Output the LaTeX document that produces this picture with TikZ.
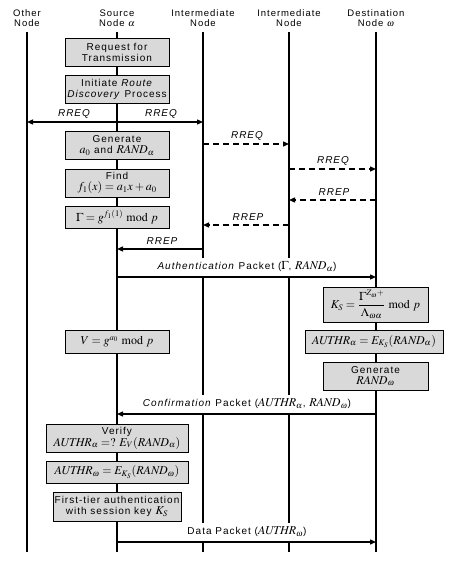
\documentclass[tikz,border=0pt]{standalone}
\usepackage{mathptmx}
\usepackage{fontspec}
\setmainfont{Liberation Sans}[LetterSpace=10]
\DeclareMathSizes{10}{12}{8.5}{7}
\definecolor{boxgray}{RGB}{217,217,217}
\usetikzlibrary{arrows.meta, positioning}

\begin{document}
\begin{tikzpicture}[x=1pt, y=-1pt,
  box/.style={draw=black, fill=boxgray, minimum width=104pt, minimum height=28pt, align=center, inner sep=1pt, font=\fontsize{10}{11}\selectfont},
  head/.style={align=center, font=\fontsize{9.5}{10}\selectfont},
  life/.style={line width=1.6pt},
  msg/.style={line width=1.3pt, -{Triangle[length=6pt, width=5pt]}},
  dmsg/.style={msg, dash pattern=on 6pt off 4pt},
  lbl/.style={font=\fontsize{10}{11}\selectfont\itshape, inner sep=1pt},
  pkt/.style={font=\fontsize{10}{11}\selectfont, fill=white, inner sep=2pt, minimum height=19pt}]
  \useasboundingbox (0,0) rectangle (453,563);

  % Node headers
  \node[head] (hO) at (27,18) {Other\\Node};
  \node[head] (hS) at (117,18) {Source\\Node $\alpha$};
  \node[head] (hI) at (203,18) {Intermediate\\Node};
  \node[head] (hJ) at (289,18) {Intermediate\\Node};
  \node[head] (hD) at (376,18) {Destination\\Node $\omega$};

  % Lifelines
  \coordinate (top) at (0,32);
  \coordinate (bot) at (0,552);
  \foreach \n in {hO,hS,hI,hJ,hD}
    \draw[life] (\n |- top) -- (\n |- bot);

  % Message levels
  \coordinate (m1) at (0,122);
  \coordinate (m2) at (0,144);
  \coordinate (m3) at (0,169);
  \coordinate (m4) at (0,200);
  \coordinate (m5) at (0,225);
  \coordinate (m6) at (0,249);
  \coordinate (m7) at (0,277);
  \coordinate (m8) at (0,414);
  \coordinate (m9) at (0,542);

  % Source side steps
  \node[box] (req) at (117,52) {Request for\\Transmission};
  \node[box] (init) at (117,89) {Initiate \textit{Route}\\\textit{Discovery} Process};
  \node[box] (gen) at (117,145.5) {Generate\\$a_0$ and $\mathit{RAND}_\alpha$};
  \node[box] (find) at (117,183) {Find\\$f_1(x) = a_1x + a_0$};
  \node[box, minimum height=22pt] (gam) at (117,217) {$\Gamma = g^{f_1(1)} \bmod p$};
  \node[box, minimum height=23pt] (vv) at (117,341.5) {$V = g^{a_0} \bmod p$};
  \node[box, minimum width=142pt] (ver) at (117,438) {Verify\\$\mathit{AUTHR}_\alpha =?\ E_V(\mathit{RAND}_\alpha)$};
  \node[box, minimum width=142pt, minimum height=22pt] (auo) at (117,472) {$\mathit{AUTHR}_\omega = E_{K_S}(\mathit{RAND}_\omega)$};
  \node[box, minimum width=128pt, minimum height=29pt] (tier) at (117,506.5) {First-tier authentication\\with session key $K_S$};

  % Destination side steps
  \node[box, minimum width=105pt, minimum height=35pt] (ks) at (375.5,304.5) {$K_S = \displaystyle\frac{\Gamma^{Z_\omega+}}{\Lambda_{\omega\alpha}} \bmod p$};
  \node[box, minimum width=138pt, minimum height=23pt] (aua) at (374,341.5) {$\mathit{AUTHR}_\alpha = E_{K_S}(\mathit{RAND}_\alpha)$};
  \node[box, minimum width=105pt] (gro) at (375.5,376) {Generate\\$\mathit{RAND}_\omega$};

  % Route discovery
  \draw[msg] (hS |- m1) -- (hO |- m1);
  \draw[msg] (hS |- m1) -- (hI |- m1);
  \node[lbl] (rq1) at (74,114) {RREQ};
  \node[lbl] (rq2) at (161,114) {RREQ};
  \draw[dmsg] (hI |- m2) -- (hJ |- m2);
  \node[lbl] (rq3) at (247,136) {RREQ};
  \draw[dmsg] (hJ |- m3) -- (hD |- m3);
  \node[lbl] (rq4) at (333,161) {RREQ};
  \draw[dmsg] (hD |- m4) -- (hJ |- m4);
  \node[lbl] (rp1) at (334,192) {RREP};
  \draw[dmsg] (hJ |- m5) -- (hI |- m5);
  \node[lbl] (rp2) at (248,217) {RREP};
  \draw[msg] (hI |- m6) -- (hS |- m6);
  \node[lbl] (rp3) at (162,241) {RREP};

  % Packets
  \node[pkt] (auth) at (247,267) {\textit{Authentication} Packet ($\Gamma$, $\mathit{RAND}_\alpha$)};
  \draw[msg] (hS |- m7) -- (hD |- m7);
  \node[pkt] (conf) at (247,404) {\textit{Confirmation} Packet ($\mathit{AUTHR}_\alpha$, $\mathit{RAND}_\omega$)};
  \draw[msg] (hD |- m8) -- (hS |- m8);
  \node[pkt] (data) at (247,532) {Data Packet ($\mathit{AUTHR}_\omega$)};
  \draw[msg] (hS |- m9) -- (hD |- m9);
\end{tikzpicture}
\end{document}
